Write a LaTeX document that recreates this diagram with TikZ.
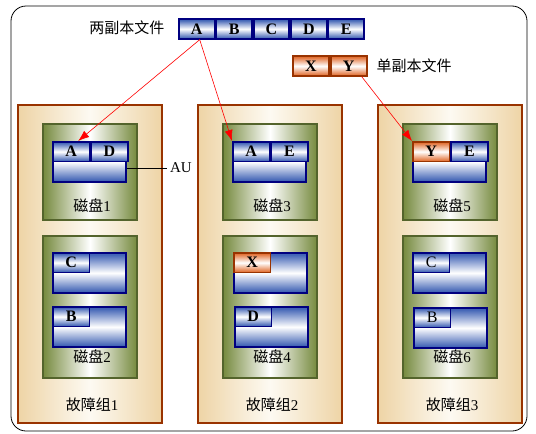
\documentclass[tikz,border=0pt]{standalone}
\usepackage{fontspec}
\setmainfont{Liberation Serif}
\newfontfamily\cjk{Noto Sans CJK SC}
\usetikzlibrary{positioning,arrows.meta}

\definecolor{grptan}{RGB}{238,212,166}
\definecolor{grpwhite}{RGB}{253,250,242}
\definecolor{grpbrown}{RGB}{153,51,0}
\definecolor{diskolive}{RGB}{118,138,62}
\definecolor{diskline}{RGB}{84,100,44}
\definecolor{cellblue}{RGB}{66,100,182}
\definecolor{cellnavy}{RGB}{0,0,128}
\definecolor{cellorange}{RGB}{226,112,52}

\pgfdeclareverticalshading{blueshade}{100bp}{color(0bp)=(cellblue); color(27bp)=(cellblue);
  color(50bp)=(white); color(73bp)=(cellblue); color(100bp)=(cellblue)}
\pgfdeclareverticalshading{orangeshade}{100bp}{color(0bp)=(cellorange); color(27bp)=(cellorange);
  color(50bp)=(white); color(73bp)=(cellorange); color(100bp)=(cellorange)}

\tikzset{
  group/.style={draw=grpbrown, line width=2.4pt, left color=grptan, right color=grptan, middle color=grpwhite},
  disk/.style={draw=diskline, line width=2.2pt, left color=diskolive, right color=diskolive, middle color=white},
  blk/.style={draw=cellnavy, line width=1.8pt, shading=blueshade,
    minimum width=73pt, minimum height=40pt, inner sep=0pt},
  cell/.style={draw=cellnavy, line width=1.8pt, shading=blueshade,
    minimum width=36.5pt, minimum height=19.5pt, inner sep=0pt, font=\bfseries\fontsize{16}{16}\selectfont},
  ocell/.style={cell, draw=grpbrown, shading=orangeshade},
  label/.style={font=\fontsize{15}{15}\selectfont},
  link/.style={red, line width=0.6pt, -{Latex[length=11pt,width=8pt]}}
}

\begin{document}
\begin{tikzpicture}[x=1pt,y=-1pt]
  \useasboundingbox (0,0) rectangle (536,434);
  \draw[line width=0.8pt, rounded corners=15pt] (11,6) rectangle (527,431);

  % fault groups and disks
  \foreach \g/\x in {1/18,2/198,3/378} {
    \draw[group] (\x,105) rectangle ++(144,318);
    \draw[disk] (\x+25,124) rectangle ++(94,96);
    \draw[disk] (\x+25,236) rectangle ++(94,142);
    \node[label] (grp\g) at (\x+74,405) {{\cjk 故障组}\g};
  }
  \node[label] (n1) at (92,206) {{\cjk 磁盘}1};
  \node[label] (n2) at (92,357) {{\cjk 磁盘}2};
  \node[label] (n3) at (272,206) {{\cjk 磁盘}3};
  \node[label] (n4) at (272,357) {{\cjk 磁盘}4};
  \node[label] (n5) at (452,206) {{\cjk 磁盘}5};
  \node[label] (n6) at (452,357) {{\cjk 磁盘}6};

  % files
  \node[label, anchor=east] (two) at (168,28) {\cjk 两副本文件};
  \node[cell, minimum width=35.6pt, anchor=west] (fA) at (178,29) {A};
  \node[cell, minimum width=35.6pt, right=0pt of fA] (fB) {B};
  \node[cell, minimum width=35.6pt, right=0pt of fB] (fC) {C};
  \node[cell, minimum width=35.6pt, right=0pt of fC] (fD) {D};
  \node[cell, minimum width=35.6pt, right=0pt of fD] (fE) {E};
  \node[ocell, minimum width=36pt, anchor=west] (fX) at (292,66) {X};
  \node[ocell, minimum width=36pt, right=0pt of fX] (fY) {Y};
  \node[label, anchor=west] (one) at (373,66) {\cjk 单副本文件};

  % disk 1
  \node[blk, anchor=north west] (b1) at (52,141) {};
  \node[cell, anchor=north west] (d1A) at (b1.north west) {A};
  \node[cell, right=0pt of d1A] (d1D) {D};
  \node[label] (au) at (181,168) {AU};
  \draw[line width=0.8pt] (b1.east |- au) -- (au.west);
  % disk 2
  \node[blk, anchor=north west] (b2C) at (52,252) {};
  \node[cell, anchor=north west] (d2C) at (b2C.north west) {C};
  \node[blk, anchor=north west] (b2B) at (52,306) {};
  \node[cell, anchor=north west] (d2B) at (b2B.north west) {B};

  % disk 3
  \node[blk, anchor=north west] (b3) at (232,141) {};
  \node[cell, anchor=north west] (d3A) at (b3.north west) {A};
  \node[cell, right=0pt of d3A] (d3E) {E};
  % disk 4
  \node[blk, anchor=north west] (b4X) at (233,252) {};
  \node[ocell, anchor=north west] (d4X) at (b4X.north west) {X};
  \node[blk, anchor=north west] (b4D) at (234,306) {};
  \node[cell, anchor=north west] (d4D) at (b4D.north west) {D};

  % disk 5
  \node[blk, anchor=north west] (b5) at (412,141) {};
  \node[ocell, anchor=north west] (d5Y) at (b5.north west) {Y};
  \node[cell, right=0pt of d5Y] (d5E) {E};
  % disk 6
  \node[blk, anchor=north west] (b6C) at (412,252) {};
  \node[cell, font=\fontsize{16}{16}\selectfont, anchor=north west] (d6C) at (b6C.north west) {C};
  \node[blk, anchor=north west] (b6B) at (413,307) {};
  \node[cell, font=\fontsize{16}{16}\selectfont, anchor=north west] (d6B) at (b6B.north west) {B};

  % copies
  \coordinate (fAs) at ([xshift=3pt]fA.south);
  \draw[link] (fAs) -- ([xshift=7pt]d1A.north);
  \draw[link] (fAs) -- (d3A.north west);
  \draw[link] ([xshift=13pt]fY.south) -- (d5Y.north west);
\end{tikzpicture}
\end{document}
